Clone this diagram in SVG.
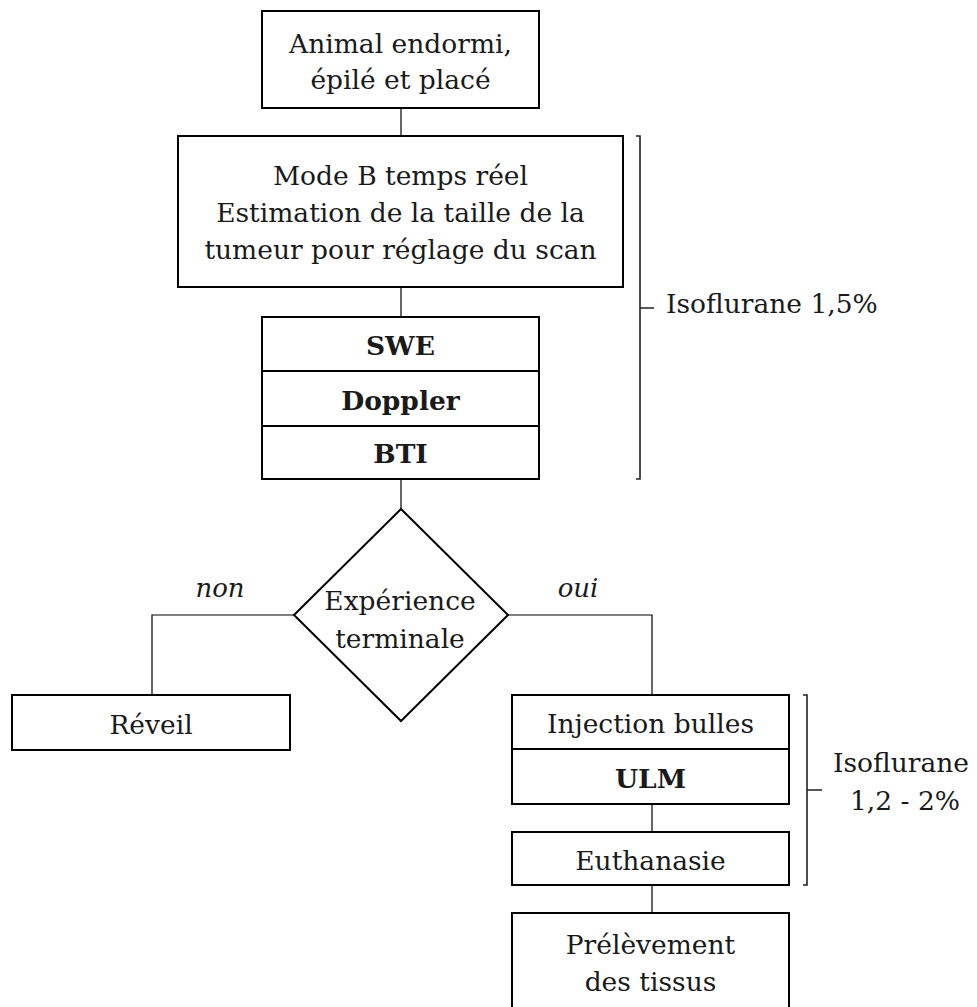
<svg xmlns="http://www.w3.org/2000/svg" width="977" height="1007" viewBox="0 0 977 1007">
<style>
.box{fill:#fff;stroke:#000;stroke-width:2}
.ln{fill:none;stroke:#000;stroke-width:1.2}
.br{fill:none;stroke:#222;stroke-width:1.6}
text{font-family:"DejaVu Serif","Liberation Serif",serif;font-size:26.5px;fill:#1a1a1a;text-anchor:middle}
.b{font-weight:bold}
.i{font-style:italic;font-size:26px}
.l{text-anchor:start}
</style>
<rect width="977" height="1007" fill="#fff"/>
<g id="connectors">
<line class="ln" x1="401" y1="108" x2="401" y2="136"/>
<line class="ln" x1="401" y1="287" x2="401" y2="317"/>
<line class="ln" x1="401" y1="479" x2="401" y2="509"/>
<polyline class="ln" points="294,615 152,615 152,695"/>
<polyline class="ln" points="508,615 652,615 652,695"/>
<line class="ln" x1="652" y1="804" x2="652" y2="832"/>
<line class="ln" x1="652" y1="885" x2="652" y2="913"/>
<text class="i" x="220" y="597">non</text>
<text class="i" x="578" y="597">oui</text>
</g>
<g id="n1">
<rect class="box" x="262" y="11" width="277" height="97"/>
<text x="400.5" y="53">Animal endormi,</text>
<text x="400.5" y="89">épilé et placé</text>
</g>
<g id="n2">
<rect class="box" x="178" y="136" width="445" height="151"/>
<text x="400.5" y="185">Mode B temps réel</text>
<text x="400.5" y="222">Estimation de la taille de la</text>
<text x="400.5" y="259">tumeur pour réglage du scan</text>
</g>
<g id="n3">
<rect class="box" x="262" y="317" width="277" height="54"/>
<text class="b" x="400.5" y="355">SWE</text>
</g>
<g id="n4">
<rect class="box" x="262" y="371" width="277" height="55"/>
<text class="b" x="400.5" y="410">Doppler</text>
</g>
<g id="n5">
<rect class="box" x="262" y="426" width="277" height="53"/>
<text class="b" x="400.5" y="463">BTI</text>
</g>
<g id="n6">
<polygon class="box" points="401,509 508,615 401,721 294,615"/>
<text x="400" y="610">Expérience</text>
<text x="400" y="648">terminale</text>
</g>
<g id="n7">
<rect class="box" x="12" y="695" width="278" height="55"/>
<text x="151" y="734">Réveil</text>
</g>
<g id="n8">
<rect class="box" x="512" y="695" width="277" height="54"/>
<text x="650.5" y="733">Injection bulles</text>
</g>
<g id="n9">
<rect class="box" x="512" y="749" width="277" height="55"/>
<text class="b" x="650.5" y="788">ULM</text>
</g>
<g id="n10">
<rect class="box" x="512" y="832" width="277" height="53"/>
<text x="650.5" y="870">Euthanasie</text>
</g>
<g id="n11">
<rect class="box" x="512" y="913" width="277" height="100"/>
<text x="650.5" y="954">Prélèvement</text>
<text x="650.5" y="991">des tissus</text>
</g>
<g id="bracket1">
<path class="br" d="M636,136 H640 V479 H636 M640,308 H654"/>
<text class="l" x="666" y="313">Isoflurane 1,5%</text>
</g>
<g id="bracket2">
<path class="br" d="M803,695 H807 V885 H803 M807,790 H822"/>
<text x="901" y="772">Isoflurane</text>
<text x="905" y="810">1,2 - 2%</text>
</g>
</svg>
